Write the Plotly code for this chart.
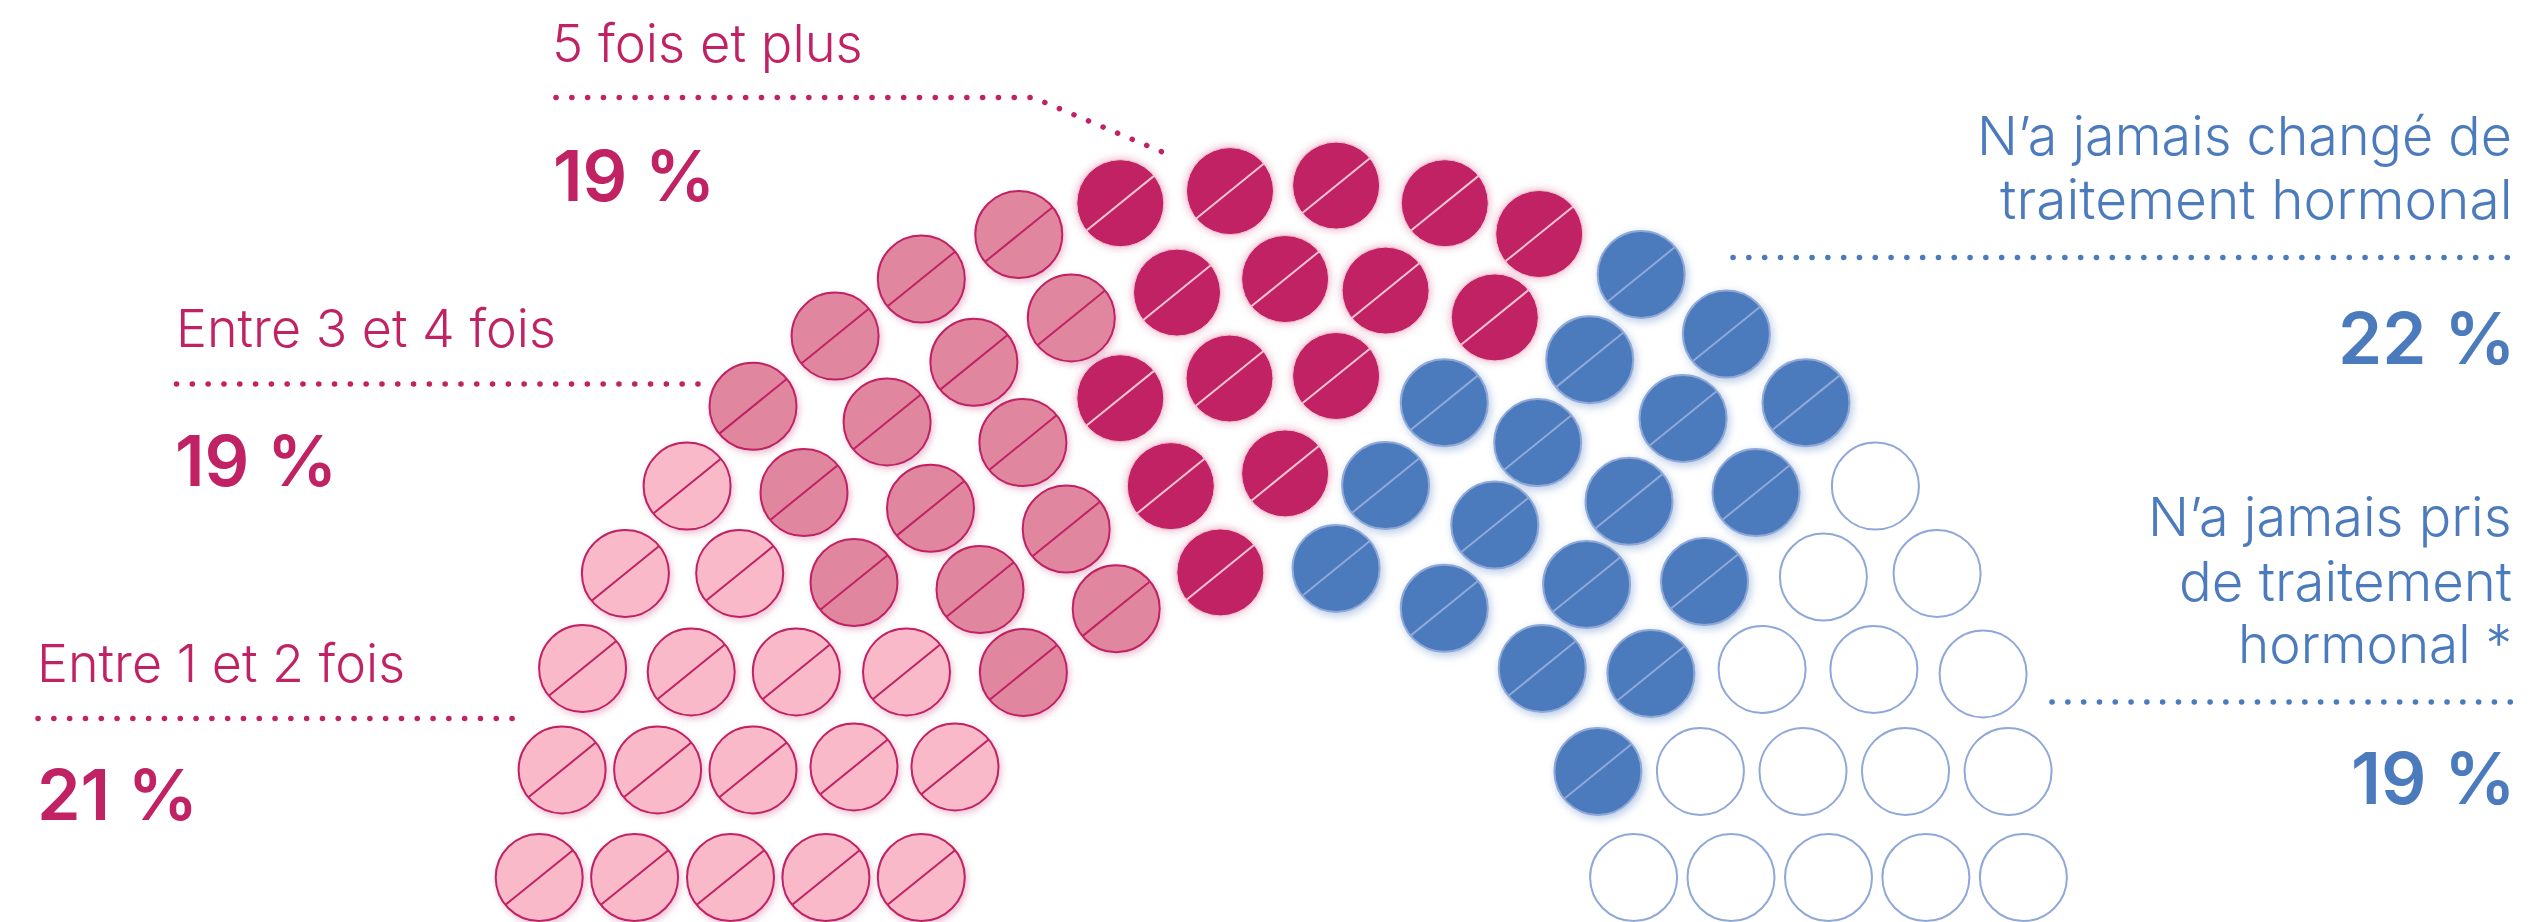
import plotly.graph_objects as go

PINK = "#C02263"
BLUE = "#4C7BBD"
BLUE_EDGE = "#8FA8D8"

# Seat positions of the 80-pill arc, grouped by answer
never_taken_x = [1875.4, 1823.4, 1937.1, 1762.1, 1873.9, 1983.1, 1700.4, 1803, 1905.5, 2008.1, 1633.6, 1731, 1828.5, 1925.9, 2023.4]
never_taken_y = [486.1, 577, 573.4, 669.4, 669.4, 673.9, 771.4, 771.4, 771.4, 771.4, 877.5, 877.5, 877.5, 877.5, 877.5]
never_changed_x = [1641.2, 1726.4, 1589.7, 1806, 1444.3, 1683.1, 1537.7, 1385.6, 1756, 1629, 1494.8, 1336.1, 1586.6, 1704.5, 1444.3, 1542.2, 1650.9, 1597.9]
never_changed_y = [274.4, 334, 359.8, 402.7, 402.7, 418.4, 442.6, 485.6, 492.6, 501.2, 525, 568.4, 584.5, 581.5, 608.3, 668.4, 673.4, 771.4]
one_two_x = [539.2, 634.6, 730.5, 825.9, 921.3, 562.1, 657.6, 753, 854, 955, 582.6, 691.2, 796.3, 906.5, 625.4, 739.7, 687.1]
one_two_y = [877.5, 877.5, 877.5, 877.5, 877.5, 769.9, 769.9, 769.9, 766.9, 766.9, 668.4, 671.9, 671.9, 671.9, 573.4, 573.4, 486.1]
three_four_x = [1023.4, 854, 980, 1116.2, 804, 930.5, 1066.2, 753, 887.1, 1022.9, 835.1, 973.9, 1071.3, 921.3, 1018.8]
three_four_y = [672.4, 582.5, 589.6, 608.8, 492.6, 508.3, 529, 406.3, 421.9, 442.6, 336.1, 362.3, 317.9, 279, 234.5]
five_plus_x = [1120.3, 1230, 1177, 1120.3, 1229.5, 1170.8, 1220.3, 1336.1, 1444.8, 1539.2, 1285.1, 1385.6, 1494.8, 1336.1, 1285.1]
five_plus_y = [203.2, 191.1, 292.6, 398.2, 378.5, 486.1, 572.4, 185.6, 203.2, 234, 279, 290.6, 317.4, 376, 473.4]

# Text: label, x, y, colour, anchor, size, weight
labels = [
    ("5 fois et plus", 552, 43, PINK, "left", 52.5, 300),
    ("19 %", 553, 175, PINK, "left", 70, 600),
    ("Entre 3 et 4 fois", 176, 328, PINK, "left", 52, 300),
    ("19 %", 175, 460, PINK, "left", 70, 600),
    ("Entre 1 et 2 fois", 37, 663, PINK, "left", 52, 300),
    ("21 %", 37, 794, PINK, "left", 70, 600),
    ("N’a jamais changé de", 2512, 135, BLUE, "right", 53.8, 300),
    ("traitement hormonal", 2512, 199, BLUE, "right", 55, 300),
    ("22 %", 2516, 338, BLUE, "right", 71, 600),
    ("N’a jamais pris", 2512, 516, BLUE, "right", 54, 300),
    ("de traitement", 2512, 581, BLUE, "right", 54.5, 300),
    ("hormonal *", 2512, 644, BLUE, "right", 53, 300),
    ("19 %", 2516, 778, BLUE, "right", 71, 600),
]

# Dotted leader lines
leaders = [
    ([556, 1033, 1164], [97.5, 97.5, 152.7], PINK),
    ([176.5, 699], [384, 384], PINK),
    ([38, 514], [718.4, 718.4], PINK),
    ([1733, 2513], [257.5, 257.5], BLUE),
    ([2052, 2513], [702, 702], BLUE),
]

SIZE = 87
SLASH = 62
groups = [
    ("Entre 1 et 2 fois", one_two_x, one_two_y, "#F9B9C9", PINK, PINK),
    ("Entre 3 et 4 fois", three_four_x, three_four_y, "#E1869F", PINK, PINK),
    ("5 fois et plus", five_plus_x, five_plus_y, PINK, "#F4C4D2", "#F4C4D2"),
    ("N'a jamais changé", never_changed_x, never_changed_y, BLUE, BLUE_EDGE, BLUE_EDGE),
]

fig = go.Figure()
for name, xs, ys, fill, edge, slash in groups:
    fig.add_trace(go.Scatter(x=xs, y=ys, mode="markers", name=name, hoverinfo="skip",
                             marker=dict(symbol="circle", size=SIZE, color=fill,
                                         line=dict(color=edge, width=2 if fill != PINK else 1))))
    fig.add_trace(go.Scatter(x=xs, y=ys, mode="markers", name=name + " (barre)", hoverinfo="skip",
                             marker=dict(symbol="line-ew", size=SLASH, angle=-39,
                                         line=dict(color=slash, width=2))))
fig.add_trace(go.Scatter(x=never_taken_x, y=never_taken_y, mode="markers", name="N'a jamais pris", hoverinfo="skip",
                         marker=dict(symbol="circle", size=SIZE, color="white",
                                     line=dict(color=BLUE_EDGE, width=2))))
for xs, ys, colour in leaders:
    fig.add_trace(go.Scatter(x=xs, y=ys, mode="lines", hoverinfo="skip",
                             line=dict(color=colour, width=5.5, dash="0.1px,15.7px")))

for text, x, y, colour, anchor, size, weight in labels:
    fig.add_annotation(x=x, y=y, text=text, showarrow=False, xanchor=anchor, yanchor="middle",
                       borderpad=0, borderwidth=0,
                       font=dict(family="Inter, Noto Sans, sans-serif", size=size, color=colour, weight=weight))

fig.update_layout(
    width=2530, height=922, autosize=False, showlegend=False,
    margin=dict(l=0, r=0, t=0, b=0), paper_bgcolor="white", plot_bgcolor="white",
    xaxis=dict(range=[0, 2530], visible=False, fixedrange=True),
    yaxis=dict(range=[922, 0], visible=False, fixedrange=True),
)

css = """
body{margin:0;overflow:hidden}
.scatterlayer .js-line{stroke-linecap:round}
.scatterlayer .trace:nth-child(1) .point,.scatterlayer .trace:nth-child(3) .point{filter:drop-shadow(2px 3px 3px rgba(192,34,99,.28))}
.scatterlayer .trace:nth-child(5) .point{filter:drop-shadow(0 0 4px rgba(192,34,99,.4))}
.scatterlayer .trace:nth-child(7) .point{filter:drop-shadow(2px 3px 4px rgba(76,123,189,.4))}
"""
post = "var s=document.createElement('style');s.textContent=%r;document.head.appendChild(s);" % css
fig.write_html("out.html", post_script=post, config={"displayModeBar": False})
